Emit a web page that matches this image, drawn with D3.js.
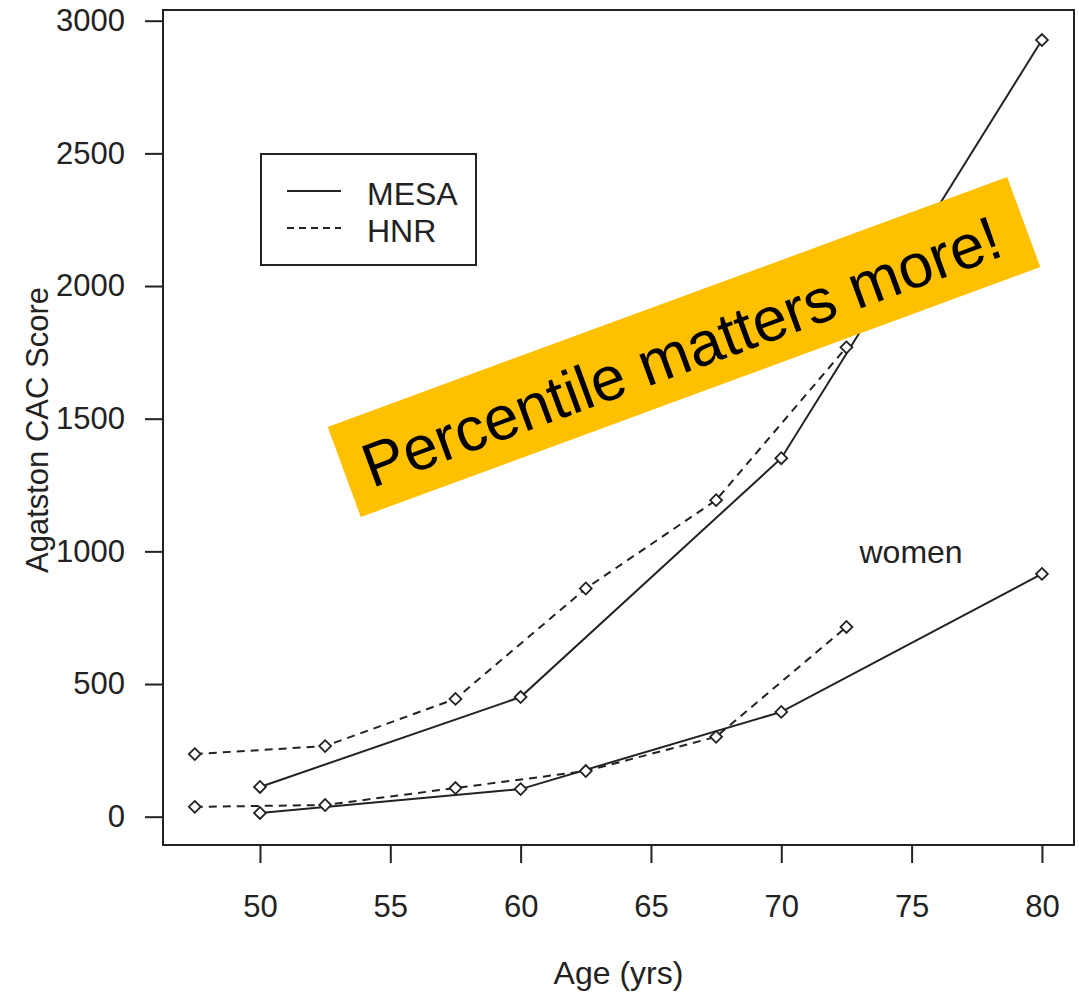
<!DOCTYPE html>
<html>
<head>
<meta charset="utf-8">
<script src="https://cdn.jsdelivr.net/npm/d3@7"></script>
<style>
  body { margin: 0; background: #fff; }
  text { font-family: "Liberation Sans", Arial, sans-serif; }
</style>
</head>
<body>
<svg id="chart"></svg>
<script>
const ageTicks = [50, 55, 60, 65, 70, 75, 80];
const cacTicks = [0, 500, 1000, 1500, 2000, 2500, 3000];

const mesaMenAge = [50, 60, 70, 80];
const mesaMenCAC = [112, 451, 1351, 2927];
const hnrMenAge = [47.5, 52.5, 57.5, 62.5, 67.5, 72.5];
const hnrMenCAC = [236, 266, 444, 860, 1193, 1769];
const mesaWomenAge = [50, 60, 70, 80];
const mesaWomenCAC = [14, 104, 395, 915];
const hnrWomenAge = [47.5, 52.5, 57.5, 62.5, 67.5, 72.5];
const hnrWomenCAC = [37, 44, 108, 172, 301, 715];

const legendNames = ["MESA", "HNR"];
const bannerText = "Percentile matters more!";

const width = 1079;
const height = 997;
const margin = { top: 10, right: 5, bottom: 152, left: 163 };
const ink = "#222";

const svg = d3.select("#chart")
    .attr("width", width)
    .attr("height", height);

const x = d3.scaleLinear()
    .domain([46.28, 81.23])
    .range([margin.left, width - margin.right]);

const y = d3.scaleLinear()
    .domain([-106.7, 3040.3])
    .range([height - margin.bottom, margin.top]);

// axes
const xAxis = svg.append("g")
    .attr("transform", `translate(0, ${height - margin.bottom})`)
    .call(d3.axisBottom(x).tickValues(ageTicks).tickSize(18).tickSizeOuter(0).tickPadding(32));

const yAxis = svg.append("g")
    .attr("transform", `translate(${margin.left}, 0)`)
    .call(d3.axisLeft(y).tickValues(cacTicks).tickFormat(d3.format("d"))
        .tickSize(18).tickSizeOuter(0).tickPadding(20));

[xAxis, yAxis].forEach(g => {
    g.select(".domain").remove();
    g.selectAll("line").attr("stroke", ink).attr("stroke-width", 2);
    g.selectAll("text")
        .attr("fill", ink)
        .style("font-size", "31px")
        .style("font-family", "'Liberation Sans', Arial, sans-serif");
});

// plot box
svg.append("rect")
    .attr("x", margin.left)
    .attr("y", margin.top)
    .attr("width", width - margin.right - margin.left)
    .attr("height", height - margin.bottom - margin.top)
    .attr("fill", "none")
    .attr("stroke", ink)
    .attr("stroke-width", 2);

svg.append("text")
    .attr("x", (margin.left + width - margin.right) / 2)
    .attr("y", 984)
    .attr("text-anchor", "middle")
    .attr("fill", ink)
    .style("font-size", "32px")
    .text("Age (yrs)");

svg.append("text")
    .attr("transform", "rotate(-90)")
    .attr("x", -430)
    .attr("y", 48)
    .attr("text-anchor", "middle")
    .attr("fill", ink)
    .style("font-size", "31px")
    .text("Agatston CAC Score");

// series
const series = [
    { ages: hnrMenAge, cac: hnrMenCAC, dash: "8,6" },
    { ages: mesaMenAge, cac: mesaMenCAC, dash: null },
    { ages: hnrWomenAge, cac: hnrWomenCAC, dash: "8,6" },
    { ages: mesaWomenAge, cac: mesaWomenCAC, dash: null }
];

const line = d3.line()
    .x(d => x(d[0]))
    .y(d => y(d[1]));

series.forEach(s => {
    const pts = s.ages.map((a, i) => [a, s.cac[i]]);
    svg.append("path")
        .datum(pts)
        .attr("d", line)
        .attr("fill", "none")
        .attr("stroke", ink)
        .attr("stroke-width", 2)
        .attr("stroke-dasharray", s.dash);
});

const diamond = d3.symbol().type(d3.symbolSquare).size(70);

series.forEach(s => {
    const pts = s.ages.map((a, i) => [a, s.cac[i]]);
    svg.append("g").selectAll("path")
        .data(pts)
        .enter().append("path")
        .attr("d", diamond)
        .attr("transform", d => `translate(${x(d[0])}, ${y(d[1])}) rotate(45)`)
        .attr("fill", "#fff")
        .attr("stroke", ink)
        .attr("stroke-width", 1.8);
});

svg.append("text")
    .attr("x", x(73))
    .attr("y", 563)
    .attr("fill", ink)
    .style("font-size", "32px")
    .text("women");

// legend
const legend = svg.append("g")
    .attr("transform", "translate(261, 154)");

legend.append("rect")
    .attr("width", 215)
    .attr("height", 111)
    .attr("fill", "#fff")
    .attr("stroke", ink)
    .attr("stroke-width", 2);

legendNames.forEach((name, i) => {
    legend.append("line")
        .attr("x1", 26)
        .attr("x2", 80)
        .attr("y1", 37 + i * 37)
        .attr("y2", 37 + i * 37)
        .attr("stroke", ink)
        .attr("stroke-width", 2)
        .attr("stroke-dasharray", i === 1 ? "7,5" : null);

    legend.append("text")
        .attr("x", 106)
        .attr("y", 51 + i * 37)
        .attr("fill", ink)
        .style("font-size", "32px")
        .text(name);
});

// banner
const banner = svg.append("g")
    .attr("transform", "translate(684, 347) rotate(-20.2)");

banner.append("rect")
    .attr("x", -362)
    .attr("y", -48)
    .attr("width", 724)
    .attr("height", 96)
    .attr("fill", "#FFC000");

banner.append("text")
    .attr("text-anchor", "middle")
    .attr("x", -4)
    .attr("dy", "0.4em")
    .attr("fill", "#000")
    .style("font-size", "62px")
    .text(bannerText);
</script>
</body>
</html>
